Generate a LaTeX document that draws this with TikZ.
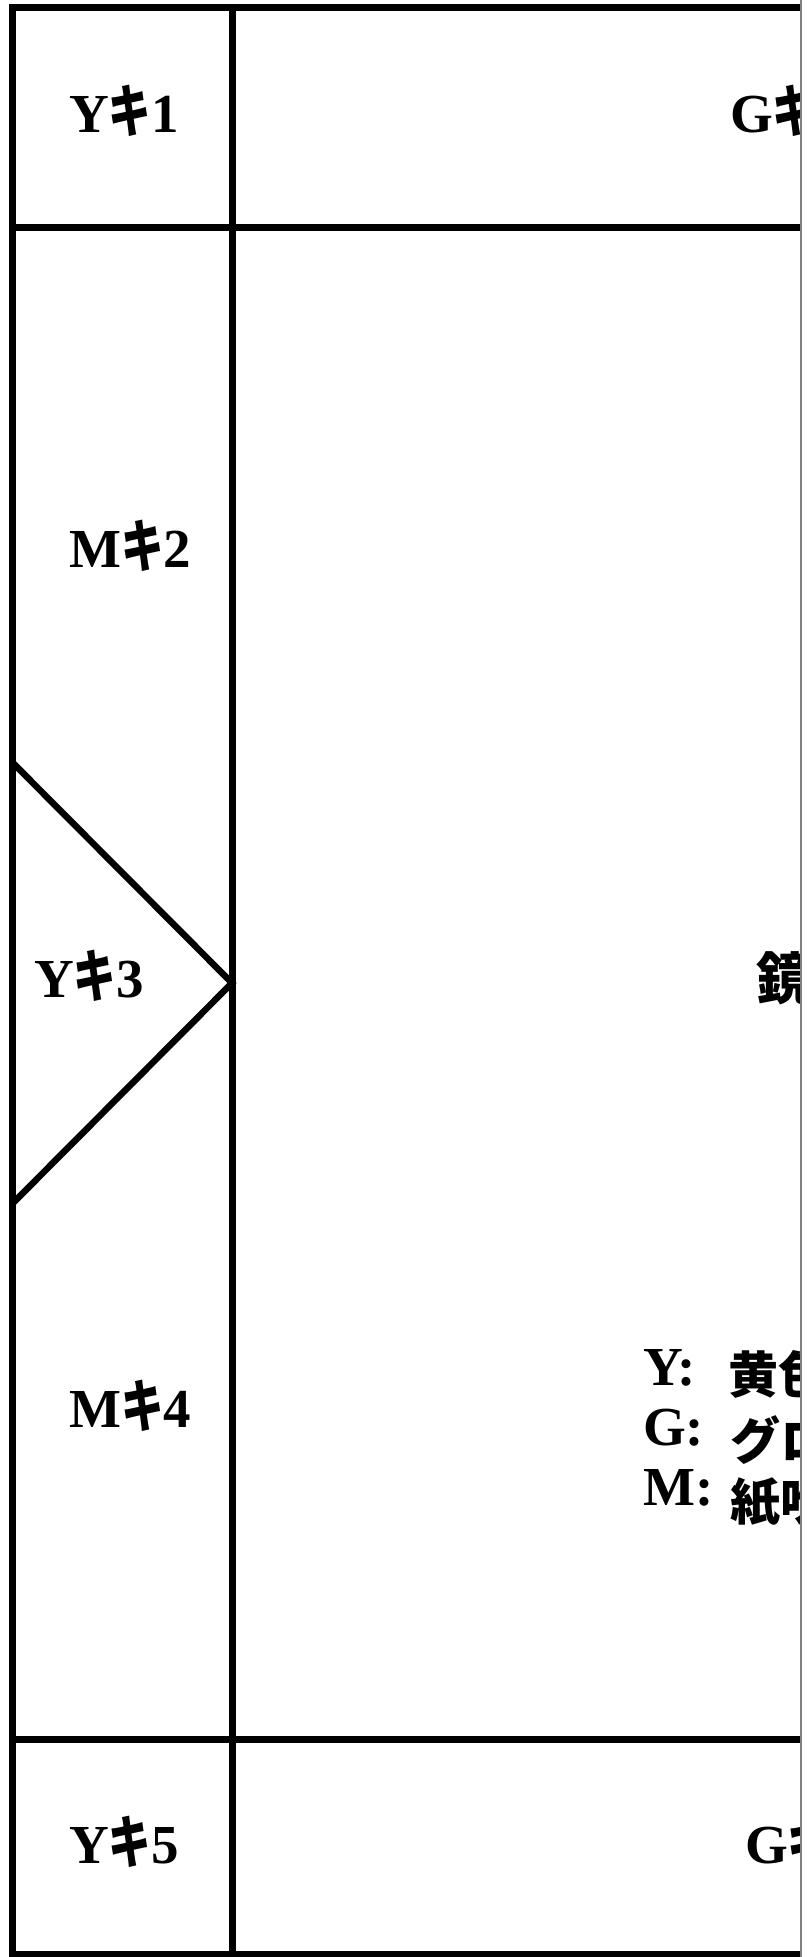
\documentclass[tikz,border=0pt]{standalone}
\usepackage{graphicx}
\usepackage{fontspec}
\setmainfont{Liberation Serif}
\newfontfamily\cjk{Noto Sans CJK JP}
\newcommand{\kiglyph}{{\cjk\bfseries\fontsize{50}{50}\selectfont\scalebox{0.85}[1.15]{キ}}}
\begin{document}
\begin{tikzpicture}[x=1pt,y=-1pt,
  frame/.style={line width=7pt, line join=miter},
  lbl/.style={inner sep=0pt, anchor=base west, font=\fontsize{55}{60}\selectfont\bfseries},
  cjklbl/.style={inner sep=0pt, anchor=west, font=\cjk\bfseries\fontsize{50}{55}\selectfont},
  edge/.style={draw=black!50, line width=1.8pt}]
\useasboundingbox (0,0) rectangle (811,1957);
\begin{scope}
  \clip (0,0) rectangle (800,1957);
  % frame
  \coordinate (tl) at (12,7.5);
  \coordinate (br) at (840,1954.5);
  \draw[frame] (tl) rectangle (br);
  \draw[frame] (232,7.5) -- (232,1954.5);
  \draw[frame] (12,227) -- (840,227);
  \draw[frame] (12,1739) -- (840,1739);
  \draw[line width=6.5pt, line join=miter] (12,762) -- (232,983) -- (12,1204);
  % left labels
  \node[lbl] (y1) at (69,132) {Y\kiglyph 1};
  \node[lbl] (m2) at (69,567) {M\kiglyph 2};
  \node[lbl] (y3) at (34,997) {Y\kiglyph 3};
  \node[lbl] (m4) at (69,1427) {M\kiglyph 4};
  \node[lbl] (y5) at (69,1863) {Y\kiglyph 5};
  % right labels (clipped)
  \node[lbl] (g1) at (730,132) {G\kiglyph};
  \node[lbl] (g5) at (745,1863) {G\kiglyph};
  \node[inner sep=0pt, anchor=west, font=\cjk\bfseries\fontsize{56}{60}\selectfont] (mirror) at (756,978) {鏡};
  % legend
  \node[lbl] (ly) at (643,1385) {Y:};
  \node[lbl] (lg) at (643,1445) {G:};
  \node[lbl] (lm) at (643,1505) {M:};
  \node[cjklbl] (ty) at (728,1374.5) {黄色};
  \node[cjklbl] (tg) at (730,1440) {グロ};
  \node[cjklbl] (tm) at (730,1502) {紙吹};
\end{scope}
\draw[edge] (800.6,0) -- (800.6,1957);
\end{tikzpicture}
\end{document}
